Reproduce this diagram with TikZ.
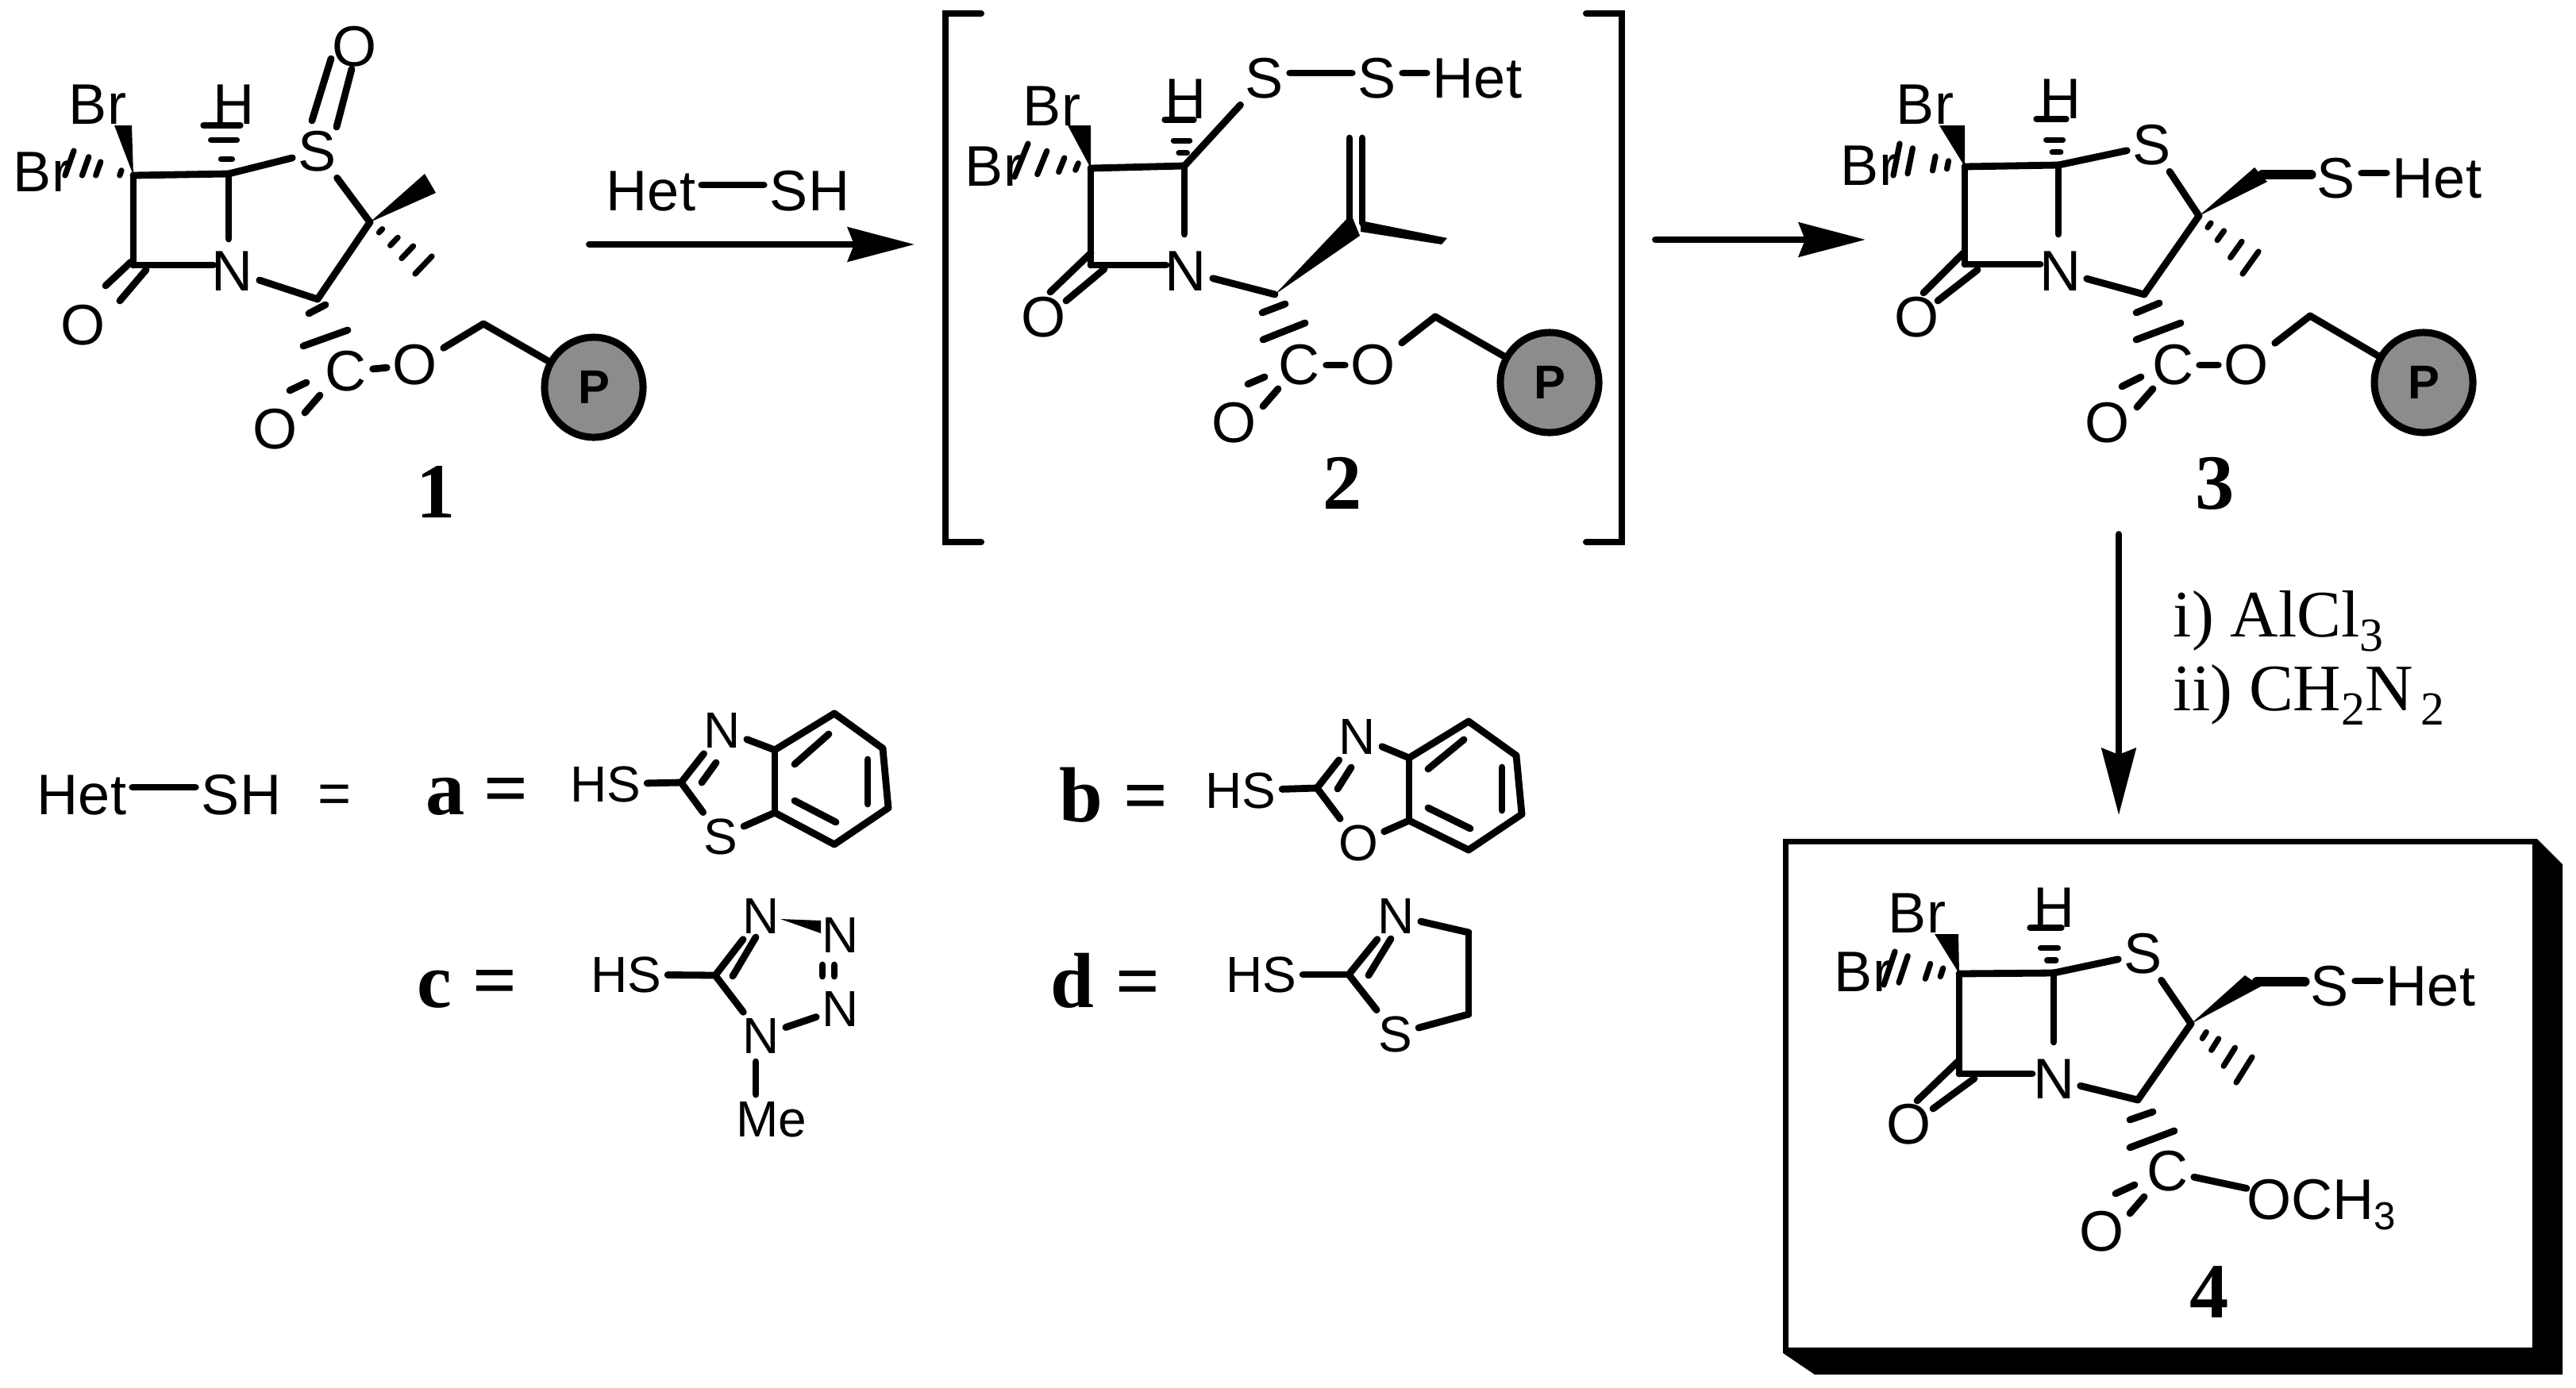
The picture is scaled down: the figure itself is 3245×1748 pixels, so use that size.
\documentclass[tikz,border=0pt]{standalone}
\usepackage{fontspec}
\setmainfont{Liberation Serif}
\setsansfont{Liberation Sans}
\usetikzlibrary{arrows.meta, calc, positioning, shapes.geometric}

\newcommand{\wedgebond}[3]{\fill (#1) -- (#2) -- (#3) -- cycle;}
\newcommand{\hashbond}[4]{\foreach \t in {#4} \draw[hashdash] ($(#1)!\t!(#2)$) -- ($(#1)!\t!(#3)$);}
\newcommand{\subdigit}[1]{\raisebox{-0.18cm}{\fontsize{17}{17}\selectfont #1}}

\begin{document}
\begin{tikzpicture}[
        x=0.01cm, y=-0.01cm,
        atom/.style={font=\sffamily\fontsize{20.5}{24}\selectfont, inner sep=0.07cm},
        smallatom/.style={font=\sffamily\fontsize{18.2}{22}\selectfont, inner sep=0.07cm},
        cpd/.style={font=\bfseries\fontsize{28}{32}\selectfont, inner sep=0pt},
        reagent/.style={font=\fontsize{23.8}{28}\selectfont, inner sep=0pt, anchor=base west},
        resin/.style={ellipse, draw, line width=0.09cm, fill=black!45, minimum width=1.24cm, minimum height=1.26cm,
            inner sep=0pt, font=\sffamily\bfseries\fontsize{17}{20}\selectfont},
        bond/.style={line width=0.088cm, line cap=round, line join=round},
        hashdash/.style={line width=0.072cm, line cap=round},
        fatbond/.style={line width=0.125cm, line cap=round},
        rxn/.style={line width=0.078cm, line cap=round, -{Stealth[length=0.84cm, width=0.43cm, inset=0.08cm]}},
        bracket/.style={line width=0.08cm, line cap=round, line join=miter},
    ]
    \useasboundingbox (0,0) rectangle (3245,1748);

    % Compound 1
    \foreach \n/\x/\y in {ca/168/221, cb/288/219, co/168/334, cn/288/301, cp/269/334, cq/466/280, ch/400/377, cm/609/408,
        bw/144/158, bx/166/158, bh/93/190, bi/82/221, hh/256/158, hi/303/158,
        mw/535/219, mx/549/243, mh/523/345, mi/544/323,
        da/165/330, db/133/360, dc/184/340, dd/151/379,
        sa/417/74, sb/393/152, sc/443/87, sd/424/160,
        ea/389/395, eb/410/384, ec/382/436, ed/438/416,
        fa/365/492, fb/386/482, fc/384/520, fd/403/498}
        \coordinate (m1\n) at (\x,\y);
    \node[atom] (m1BrU) at (123,132) {Br};
    \node[atom] (m1BrL) at (53,217) {Br};
    \node[atom] (m1H) at (295,132) {H};
    \node[atom] (m1S) at (400,191) {S};
    \node[atom] (m1Oa) at (447,59) {O};
    \node[atom] (m1N) at (293,342) {N};
    \node[atom] (m1Ob) at (105,410) {O};
    \node[atom] (m1C) at (436,468) {C};
    \node[atom] (m1Oc) at (523,460) {O};
    \node[atom] (m1Od) at (347,541) {O};
    \node[resin] (m1P) at (748,488) {P};
    \node[cpd] (m1lbl) at (549,620) {1};
    \foreach \a/\b in {ca/cb, cb/S, ca/co, cb/cn, co/cp, N/ch, ch/cq, S/cq, C/Oc, Oc/cm, cm/P,
        da/db, dc/dd, sa/sb, sc/sd, ea/eb, ec/ed, fa/fb, fc/fd}
        \draw[bond] (m1\a) -- (m1\b);
    \wedgebond{m1ca}{m1bw}{m1bx}
    \wedgebond{m1cq}{m1mw}{m1mx}
    \hashbond{m1ca}{m1bh}{m1bi}{0.2,0.55,0.75,1}
    \hashbond{m1cb}{m1hh}{m1hi}{0.3,0.7,1}
    \hashbond{m1cq}{m1mh}{m1mi}{0.2,0.45,0.7,1}

    % Reagent over first arrow
    \node[atom] (rHet) at (820,241) {Het};
    \node[atom] (rSH) at (1020,241) {SH};
    \draw[bond] ([yshift=0.08cm]rHet.east) -- ([yshift=0.08cm]rSH.west);
    \coordinate (ar1a) at (742,308);
    \coordinate (ar1b) at (1152,308);
    \draw[rxn] (ar1a) -- (ar1b);

    % Compound 2
    \foreach \n/\x/\y in {bla/1236/17, blb/1191/17, blc/1191/683, bld/1236/683,
        bra/1998/17, brb/2043/17, brc/2043/683, brd/1998/683}
        \coordinate (\n) at (\x,\y);
    \draw[bracket] (bla) -- (blb) -- (blc) -- (bld);
    \draw[bracket] (bra) -- (brb) -- (brc) -- (brd);
    \foreach \n/\x/\y in {ca/1374/212, cb/1492/209, co/1374/334, cn/1492/295, cp/1469/334, ch/1606/371, cv/1707/281, cm/1808/399,
        bw/1345/158, bx/1374/158, bh/1295/181, bi/1278/223, hh/1467/151, hi/1504/151,
        va/1700/174, vb/1700/281, vc/1716/174, vd/1716/281,
        wa/1702/270, wb/1713/297, xa/1714/278, xb/1823/300, xc/1816/308, xd/1714/292,
        da/1374/319, db/1323/368, dc/1391/339, dd/1343/379,
        ea/1590/394, eb/1619/383, ec/1591/428, ed/1644/407,
        fa/1572/484, fb/1593/475, fc/1591/512, fd/1610/490}
        \coordinate (m2\n) at (\x,\y);
    \node[atom] (m2BrU) at (1325,134) {Br};
    \node[atom] (m2BrL) at (1252,210) {Br};
    \node[atom] (m2H) at (1494,125) {H};
    \node[atom] (m2Sa) at (1593,99) {S};
    \node[atom] (m2Sb) at (1735,99) {S};
    \node[atom] (m2Het) at (1861,99) {Het};
    \node[atom] (m2N) at (1494,342) {N};
    \node[atom] (m2Ob) at (1315,400) {O};
    \node[atom] (m2C) at (1637,460) {C};
    \node[atom] (m2Oc) at (1730,460) {O};
    \node[atom] (m2Od) at (1555,533) {O};
    \node[resin] (m2P) at (1952,482) {P};
    \node[cpd] (m2lbl) at (1691,609) {2};
    \foreach \a/\b in {ca/cb, cb/Sa, ca/co, cb/cn, co/cp, N/ch, C/Oc, Oc/cm, cm/P,
        va/vb, vc/vd, da/db, dc/dd, ea/eb, ec/ed, fa/fb, fc/fd}
        \draw[bond] (m2\a) -- (m2\b);
    \draw[bond] ([yshift=0.07cm]m2Sa.east) -- ([yshift=0.07cm]m2Sb.west);
    \draw[bond] ([yshift=0.07cm]m2Sb.east) -- ([yshift=0.07cm]m2Het.west);
    \wedgebond{m2ca}{m2bw}{m2bx}
    \wedgebond{m2ch}{m2wa}{m2wb}
    \fill (m2xa) -- (m2xb) -- (m2xc) -- (m2xd) -- cycle;
    \hashbond{m2ca}{m2bh}{m2bi}{0.2,0.42,0.7,1}
    \hashbond{m2cb}{m2hh}{m2hi}{0.28,0.55,1}

    % Arrow 2 to 3
    \coordinate (ar2a) at (2085,302);
    \coordinate (ar2b) at (2350,302);
    \draw[rxn] (ar2a) -- (ar2b);

    % Compound 3
    \foreach \n/\x/\y in {ca/2475/210, cb/2593/208, co/2475/333, cn/2593/295, cp/2570/333, ch/2701/371, cq/2770/272, cs/2850/220, cm/2910/398,
        bw/2443/158, bx/2475/158, bh/2393/181, bi/2385/221, hh/2565/150, hi/2603/150,
        wa/2840/211, wb/2856/229, mh/2825/345, mi/2845/317,
        da/2473/319, db/2423/369, dc/2491/340, dd/2441/379,
        ea/2691/394, eb/2720/382, ec/2691/428, ed/2747/407,
        fa/2673/487, fb/2697/475, fc/2692/513, fd/2712/490}
        \coordinate (m3\n) at (\x,\y);
    \node[atom] (m3BrU) at (2425,132) {Br};
    \node[atom] (m3BrL) at (2355,209) {Br};
    \node[atom] (m3H) at (2595,125) {H};
    \node[atom] (m3Sa) at (2711,183) {S};
    \node[atom] (m3Sb) at (2943,225) {S};
    \node[atom] (m3Het) at (3070,225) {Het};
    \node[atom] (m3N) at (2595,342) {N};
    \node[atom] (m3Ob) at (2415,400) {O};
    \node[atom] (m3C) at (2737,460) {C};
    \node[atom] (m3Oc) at (2830,460) {O};
    \node[atom] (m3Od) at (2655,533) {O};
    \node[resin] (m3P) at (3053,482) {P};
    \node[cpd] (m3lbl) at (2790,609) {3};
    \foreach \a/\b in {ca/cb, cb/Sa, ca/co, cb/cn, co/cp, N/ch, ch/cq, Sa/cq, C/Oc, Oc/cm, cm/P,
        da/db, dc/dd, ea/eb, ec/ed, fa/fb, fc/fd}
        \draw[bond] (m3\a) -- (m3\b);
    \draw[fatbond] (m3cs) -- (m3cs -| m3Sb.west);
    \draw[bond] ([yshift=0.07cm]m3Sb.east) -- ([yshift=0.07cm]m3Het.west);
    \wedgebond{m3ca}{m3bw}{m3bx}
    \wedgebond{m3cq}{m3wa}{m3wb}
    \hashbond{m3ca}{m3bh}{m3bi}{0.25,0.45,0.8,1}
    \hashbond{m3cb}{m3hh}{m3hi}{0.28,0.55,1}
    \hashbond{m3cq}{m3mh}{m3mi}{0.2,0.42,0.72,1}

    % Arrow 3 to 4 and reagents
    \coordinate (ar3a) at (2669,673);
    \coordinate (ar3b) at (2669,1027);
    \draw[rxn] (ar3a) -- (ar3b);
    \node[reagent] (rAl) at (2737,802) {i) AlCl\subdigit{3}};
    \node[reagent] (rCH) at (2737,895) {ii) CH\subdigit{2}N\hspace{0.1cm}\subdigit{2}};

    % Compound 4
    \node[draw, line width=0.065cm, minimum width=9.43cm, minimum height=6.41cm, inner sep=0pt] (box4) at (2721,1381) {};
    \fill (box4.north east) -- ++(32,32) -- ++(0,643) -- ++(-942,0) -- (box4.south west) -- (box4.south east) -- cycle;
    \foreach \n/\x/\y in {ca/2468/1227, cb/2587/1226, co/2468/1353, cn/2587/1313, cp/2560/1353, ch/2693/1386, cq/2760/1290, cs/2843/1237,
        bw/2437/1177, bx/2467/1177, bh/2387/1199, bi/2373/1241, hh/2557/1169, hi/2597/1169,
        wa/2828/1229, wb/2848/1243, mh/2817/1364, mi/2837/1332,
        da/2467/1337, db/2415/1387, dc/2487/1359, dd/2435/1397,
        ea/2683/1411, eb/2712/1401, ec/2683/1446, ed/2739/1425,
        fa/2665/1504, fb/2689/1493, fc/2683/1529, fd/2701/1508}
        \coordinate (m4\n) at (\x,\y);
    \node[atom] (m4BrU) at (2415,1151) {Br};
    \node[atom] (m4BrL) at (2347,1225) {Br};
    \node[atom] (m4H) at (2587,1144) {H};
    \node[atom] (m4Sa) at (2700,1202) {S};
    \node[atom] (m4Sb) at (2935,1243) {S};
    \node[atom] (m4Het) at (3062,1243) {Het};
    \node[atom] (m4N) at (2587,1360) {N};
    \node[atom] (m4Ob) at (2405,1417) {O};
    \node[atom] (m4C) at (2730,1476) {C};
    \node[atom, anchor=base west, inner sep=0pt] (m4OMe) at (2830,1536) {OCH\raisebox{-0.13cm}{\fontsize{14}{14}\selectfont 3}};
    \node[atom] (m4Od) at (2648,1552) {O};
    \node[cpd] (m4lbl) at (2783,1628) {4};
    \foreach \a/\b in {ca/cb, cb/Sa, ca/co, cb/cn, co/cp, N/ch, ch/cq, Sa/cq, C/OMe,
        da/db, dc/dd, ea/eb, ec/ed, fa/fb, fc/fd}
        \draw[bond] (m4\a) -- (m4\b);
    \draw[fatbond] (m4cs) -- (m4cs -| m4Sb.west);
    \draw[bond] ([yshift=0.07cm]m4Sb.east) -- ([yshift=0.07cm]m4Het.west);
    \wedgebond{m4ca}{m4bw}{m4bx}
    \wedgebond{m4cq}{m4wa}{m4wb}
    \hashbond{m4ca}{m4bh}{m4bi}{0.25,0.45,0.8,1}
    \hashbond{m4cb}{m4hh}{m4hi}{0.28,0.55,1}
    \hashbond{m4cq}{m4mh}{m4mi}{0.25,0.45,0.72,1}

    % Het-SH legend
    \node[atom] (lHet) at (103,1002) {Het};
    \node[atom] (lSH) at (304,1002) {SH};
    \node[atom] (lEq) at (422,1007) {=};
    \draw[bond] ([yshift=0.1cm]lHet.east) -- ([yshift=0.1cm]lSH.west);

    % Thiol a
    \node[cpd] (alb) at (561,1004) {a};
    \node[cpd] (aeq) at (638,1004) {=};
    \foreach \n/\x/\y in {cb/858/986, cc/976/945, cd/976/1024, ra/1051/899, rb/1112/943, rc/1119/1018, rd/1051/1064,
        ia/1001/963, ib/1044/925, ic/1093/957, id/1093/1013, ie/1001/1009, if/1053/1036, na/884/986, nb/902/961}
        \coordinate (a\n) at (\x,\y);
    \node[smallatom] (aHS) at (763,988) {HS};
    \node[smallatom] (aN) at (910,920) {N};
    \node[smallatom] (aS) at (908,1054) {S};
    \foreach \a/\b in {HS/cb, cb/N, cb/S, N/cc, S/cd, cc/cd, cc/ra, ra/rb, rb/rc, rc/rd, rd/cd, ia/ib, ic/id, ie/if, na/nb}
        \draw[bond] (a\a) -- (a\b);

    % Thiol b
    \node[cpd] (blb) at (1362,1002) {b};
    \node[cpd] (beq) at (1444,1012) {=};
    \foreach \n/\x/\y in {cb/1659/993, cc/1775/955, cd/1775/1034, ra/1850/909, rb/1910/952, rc/1917/1026, rd/1850/1071,
        ia/1799/969, ib/1844/932, ic/1892/967, id/1892/1021, ie/1799/1018, if/1852/1044, na/1685/994, nb/1702/967}
        \coordinate (b\n) at (\x,\y);
    \node[smallatom] (bHS) at (1563,996) {HS};
    \node[smallatom] (bN) at (1710,928) {N};
    \node[smallatom] (bO) at (1711,1062) {O};
    \foreach \a/\b in {HS/cb, cb/N, cb/O, N/cc, O/cd, cc/cd, cc/ra, ra/rb, rb/rc, rc/rd, rd/cd, ia/ib, ic/id, ie/if, na/nb}
        \draw[bond] (b\a) -- (b\b);

    % Thiol c
    \node[cpd] (clb) at (547,1247) {c};
    \node[cpd] (ceq) at (624,1245) {=};
    \foreach \n/\x/\y in {cb/901/1229, na/923/1230, nb/952/1181, wa/983/1158, wb/1034/1160, wc/1034/1176,
        pa/1036/1216, pb/1036/1230, pc/1051/1216, pd/1051/1230, ma/952/1338, mb/952/1379}
        \coordinate (c\n) at (\x,\y);
    \node[smallatom] (cHS) at (789,1228) {HS};
    \node[smallatom] (cNa) at (959,1154) {N};
    \node[smallatom] (cNb) at (1059,1178) {N};
    \node[smallatom] (cNc) at (1059,1271) {N};
    \node[smallatom] (cNd) at (959,1305) {N};
    \node[smallatom] (cMe) at (972,1411) {Me};
    \foreach \a/\b in {HS/cb, cb/Na, cb/Nd, Nd/Nc, na/nb, pa/pb, pc/pd, ma/mb}
        \draw[bond] (c\a) -- (c\b);
    \wedgebond{cwa}{cwb}{cwc}

    % Thiol d
    \node[cpd] (dlb) at (1351,1236) {d};
    \node[cpd] (deq) at (1434,1246) {=};
    \foreach \n/\x/\y in {cb/1699/1228, ra/1850/1175, rb/1850/1278, na/1724/1229, nb/1752/1183}
        \coordinate (d\n) at (\x,\y);
    \node[smallatom] (dHS) at (1589,1228) {HS};
    \node[smallatom] (dN) at (1759,1154) {N};
    \node[smallatom] (dS) at (1758,1303) {S};
    \foreach \a/\b in {HS/cb, cb/N, cb/S, N/ra, ra/rb, rb/S, na/nb}
        \draw[bond] (d\a) -- (d\b);

\end{tikzpicture}
\end{document}
